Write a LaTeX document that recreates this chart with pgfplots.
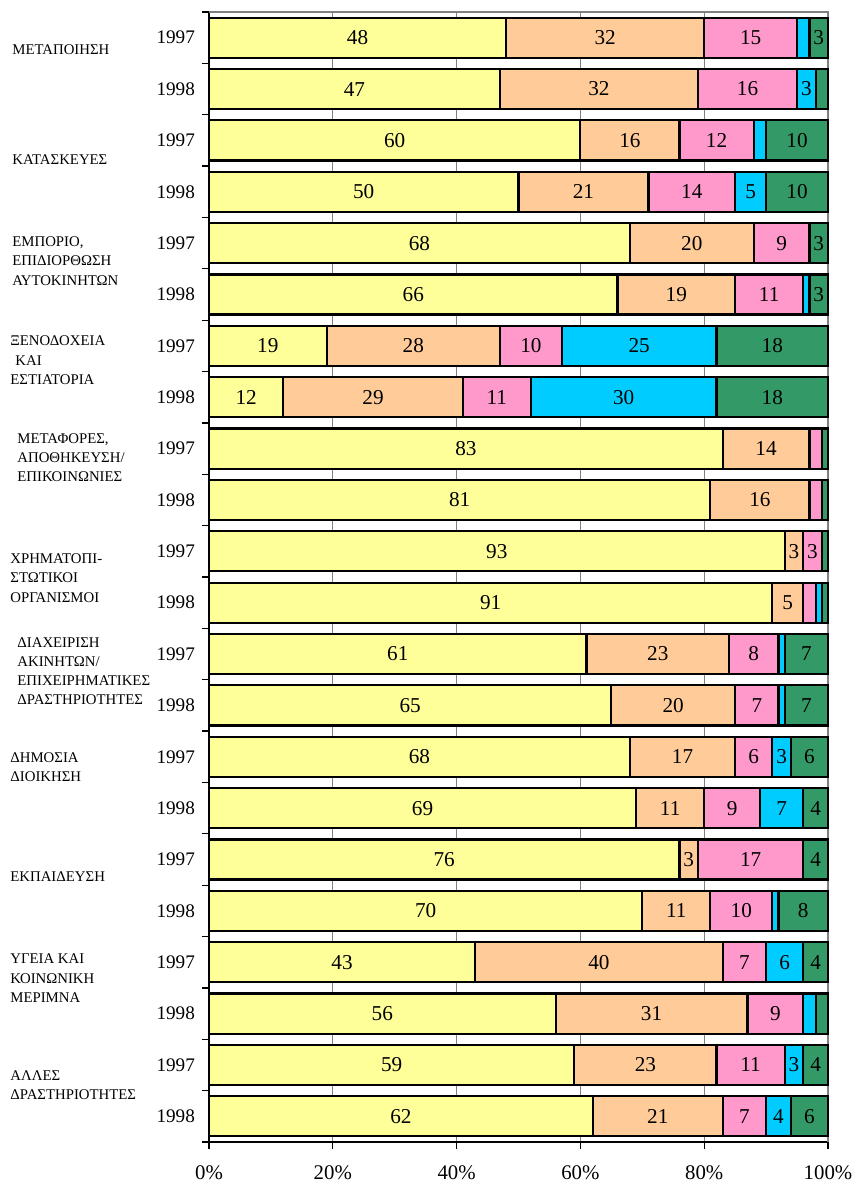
\documentclass[border=0pt]{standalone}
\usepackage{fontspec}
\setmainfont{Liberation Serif}
\usepackage{pgfplots}
\usepackage{pgfplotstable}
\pgfplotsset{compat=1.18}
\definecolor{cY}{HTML}{FFFF99}
\definecolor{cP}{HTML}{FFCC99}
\definecolor{cK}{HTML}{FF99CC}
\definecolor{cC}{HTML}{00CCFF}
\definecolor{cG}{HTML}{339966}

\pgfplotstableread{
y  a  b  c  d  e
22 48 32 15 2  3
21 47 32 16 3  2
20 60 16 12 2  10
19 50 21 14 5  10
18 68 20 9  0  3
17 66 19 11 1  3
16 19 28 10 25 18
15 12 29 11 30 18
14 83 14 2  0  1
13 81 16 2  0  1
12 93 3  3  0  1
11 91 5  2  1  1
10 61 23 8  1  7
9  65 20 7  1  7
8  68 17 6  3  6
7  69 11 9  7  4
6  76 3  17 0  4
5  70 11 10 1  8
4  43 40 7  6  4
3  56 31 9  2  2
2  59 23 11 3  4
1  62 21 7  4  6
}\datatable

\begin{document}
\begin{tikzpicture}
\begin{axis}[
  scale only axis, width=309.5pt, height=565pt,
  xbar stacked, bar width=0.78,
  xmin=0, xmax=100, ymin=0.5, ymax=22.5,
  xtick={0,20,...,100}, xticklabels={0\%,20\%,40\%,60\%,80\%,100\%},
  xtick pos=left, ytick pos=left,
  tick align=outside, major tick length=3.5pt,
  ytick={0.5,1.5,...,22.5}, yticklabels={},
  extra y ticks={1,...,22},
  extra y tick labels={1998,1997,1998,1997,1998,1997,1998,1997,1998,1997,1998,1997,1998,1997,1998,1997,1998,1997,1998,1997,1998,1997},
  extra y tick style={major tick length=0pt, yticklabel style={font=\fontsize{9.6}{11}\selectfont, xshift=-3.5pt}},
  xmajorgrids, major grid style={draw=gray, line width=0.6pt},
  axis line style={draw=none},
  tick style={black, line width=0.6pt},
  xticklabel style={font=\fontsize{10.4}{12}\selectfont, yshift=-5pt},
  clip=false,
  visualization depends on={rawx \as \rawx},
  nodes near coords={\ifdim\rawx pt<2.5pt\else\pgfmathprintnumber[fixed,precision=0,assume math mode=true]{\rawx}\fi},
  every node near coord/.append style={anchor=center, font=\fontsize{10.6}{12}\selectfont, text=black},
]
\addplot[fill=cY, draw=black, line width=1.1pt] table[x=a, y=y]{\datatable};
\addplot[fill=cP, draw=black, line width=1.1pt] table[x=b, y=y]{\datatable};
\addplot[fill=cK, draw=black, line width=1.1pt] table[x=c, y=y]{\datatable};
\addplot[fill=cC, draw=black, line width=1.1pt] table[x=d, y=y]{\datatable};
\addplot[fill=cG, draw=black, line width=1.1pt] table[x=e, y=y]{\datatable};

\draw[gray, line width=0.6pt] (rel axis cs:0,1) -- (rel axis cs:1,1) -- (rel axis cs:1,0);
\draw[black, line width=0.8pt] (rel axis cs:0,0) -- (rel axis cs:1,0);
\draw[black, line width=1pt] (rel axis cs:0,0) -- (rel axis cs:0,1);

\tikzset{cat/.style={anchor=west, align=left, inner sep=0pt, font=\fontsize{7.4}{9.6}\selectfont}}
\node[cat] at (axis cs:-31.83,21.76) {ΜΕΤΑΠΟΙΗΣΗ};
\node[cat] at (axis cs:-31.83,19.62) {ΚΑΤΑΣΚΕΥΕΣ};
\node[cat] at (axis cs:-31.83,17.65) {ΕΜΠΟΡΙΟ,\\ΕΠΙΔΙΟΡΘΩΣΗ\\ΑΥΤΟΚΙΝΗΤΩΝ};
\node[cat] at (axis cs:-32.15,15.72) {ΞΕΝΟΔΟΧΕΙΑ\\\hspace*{2.5pt}ΚΑΙ\\ΕΣΤΙΑΤΟΡΙΑ};
\node[cat] at (axis cs:-31.02,13.82) {ΜΕΤΑΦΟΡΕΣ,\\ΑΠΟΘΗΚΕΥΣΗ/\\ΕΠΙΚΟΙΝΩΝΙΕΣ};
\node[cat] at (axis cs:-32.15,11.48) {ΧΡΗΜΑΤΟΠΙ-\\ΣΤΩΤΙΚΟΙ\\ΟΡΓΑΝΙΣΜΟΙ};
\node[cat] at (axis cs:-31.02,9.67) {ΔΙΑΧΕΙΡΙΣΗ\\ΑΚΙΝΗΤΩΝ/\\ΕΠΙΧΕΙΡΗΜΑΤΙΚΕΣ\\ΔΡΑΣΤΗΡΙΟΤΗΤΕΣ};
\node[cat] at (axis cs:-32.15,7.80) {ΔΗΜΟΣΙΑ\\ΔΙΟΙΚΗΣΗ};
\node[cat] at (axis cs:-32.15,5.66) {ΕΚΠΑΙΔΕΥΣΗ};
\node[cat] at (axis cs:-32.15,3.69) {ΥΓΕΙΑ ΚΑΙ\\ΚΟΙΝΩΝΙΚΗ\\ΜΕΡΙΜΝΑ};
\node[cat] at (axis cs:-32.15,1.61) {ΑΛΛΕΣ\\ΔΡΑΣΤΗΡΙΟΤΗΤΕΣ};
\end{axis}
\pgfresetboundingbox
\path (-104.5pt,-21pt) rectangle (323.5pt,571pt);
\end{tikzpicture}
\end{document}
